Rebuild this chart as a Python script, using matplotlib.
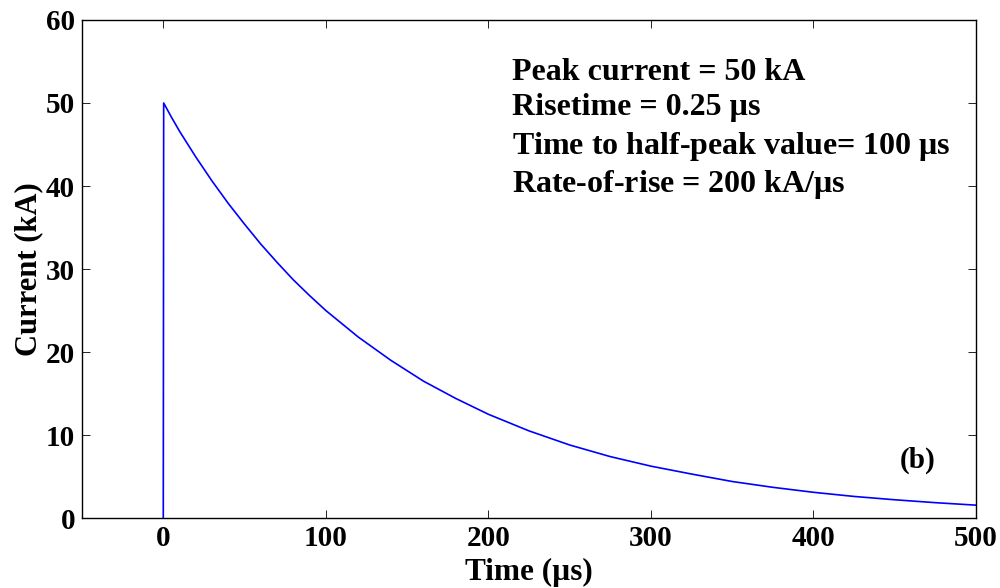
import numpy as np
import matplotlib.pyplot as plt

plt.rcParams['font.family'] = 'Liberation Serif'
plt.rcParams['font.weight'] = 'bold'
plt.rcParams['mathtext.fontset'] = 'custom'
plt.rcParams['mathtext.rm'] = 'Liberation Serif'

# current waveform
t_us = np.array([0, 0.25, 5, 10, 20, 30, 40, 50, 60, 70, 80, 90, 100, 120, 140,
                 160, 180, 200, 225, 250, 275, 300, 325, 350, 375, 400, 425,
                 450, 475, 500])
i_kA = np.array([0, 50, 48.3, 46.6, 43.5, 40.6, 37.9, 35.4, 33.0, 30.8, 28.7,
                 26.8, 25.0, 21.8, 19.0, 16.5, 14.4, 12.5, 10.5, 8.8, 7.4, 6.25,
                 5.3, 4.4, 3.7, 3.1, 2.6, 2.2, 1.85, 1.55])

xticks = [0, 100, 200, 300, 400, 500]
yticks = [0, 10, 20, 30, 40, 50, 60]

info = ['Peak current = 50 kA',
        'Risetime = 0.25 \u00b5s',
        r'Time to half-peak value= 100 $\mathrm{\mu s}$',
        r'Rate-of-rise = 200 kA/$\mathrm{\mu s}$']

fig = plt.figure(figsize=(10, 5.88), dpi=100)
ax = fig.add_axes([0.082, 0.119, 0.894, 0.847])
ax.plot(t_us, i_kA, color=(0, 0, 1), lw=1.2)

ax.set_xlim(-50, 500)
ax.set_ylim(0, 60)
ax.set_xticks(xticks)
ax.set_yticks(yticks)
ax.tick_params(direction='in', length=6, width=0.6, top=True, right=True,
               labelsize=21, pad=5)
for s in ax.spines.values():
    s.set_linewidth(1.0)

ax.set_xlabel('Time (\u00b5s)', fontsize=22.5, fontweight='bold', labelpad=4)
ax.set_ylabel('Current (kA)', fontsize=22, fontweight='bold', labelpad=2)

ys = [53.7, 49.4, 44.8, 40.2]
for txt, y in zip(info, ys):
    ax.text(214.5, y, txt, fontsize=23, fontweight='bold', va='center', ha='left')

ax.text(464, 6.9, '(b)', fontsize=21, fontweight='bold', va='center', ha='center')

fig.savefig('out.png', dpi=100)
